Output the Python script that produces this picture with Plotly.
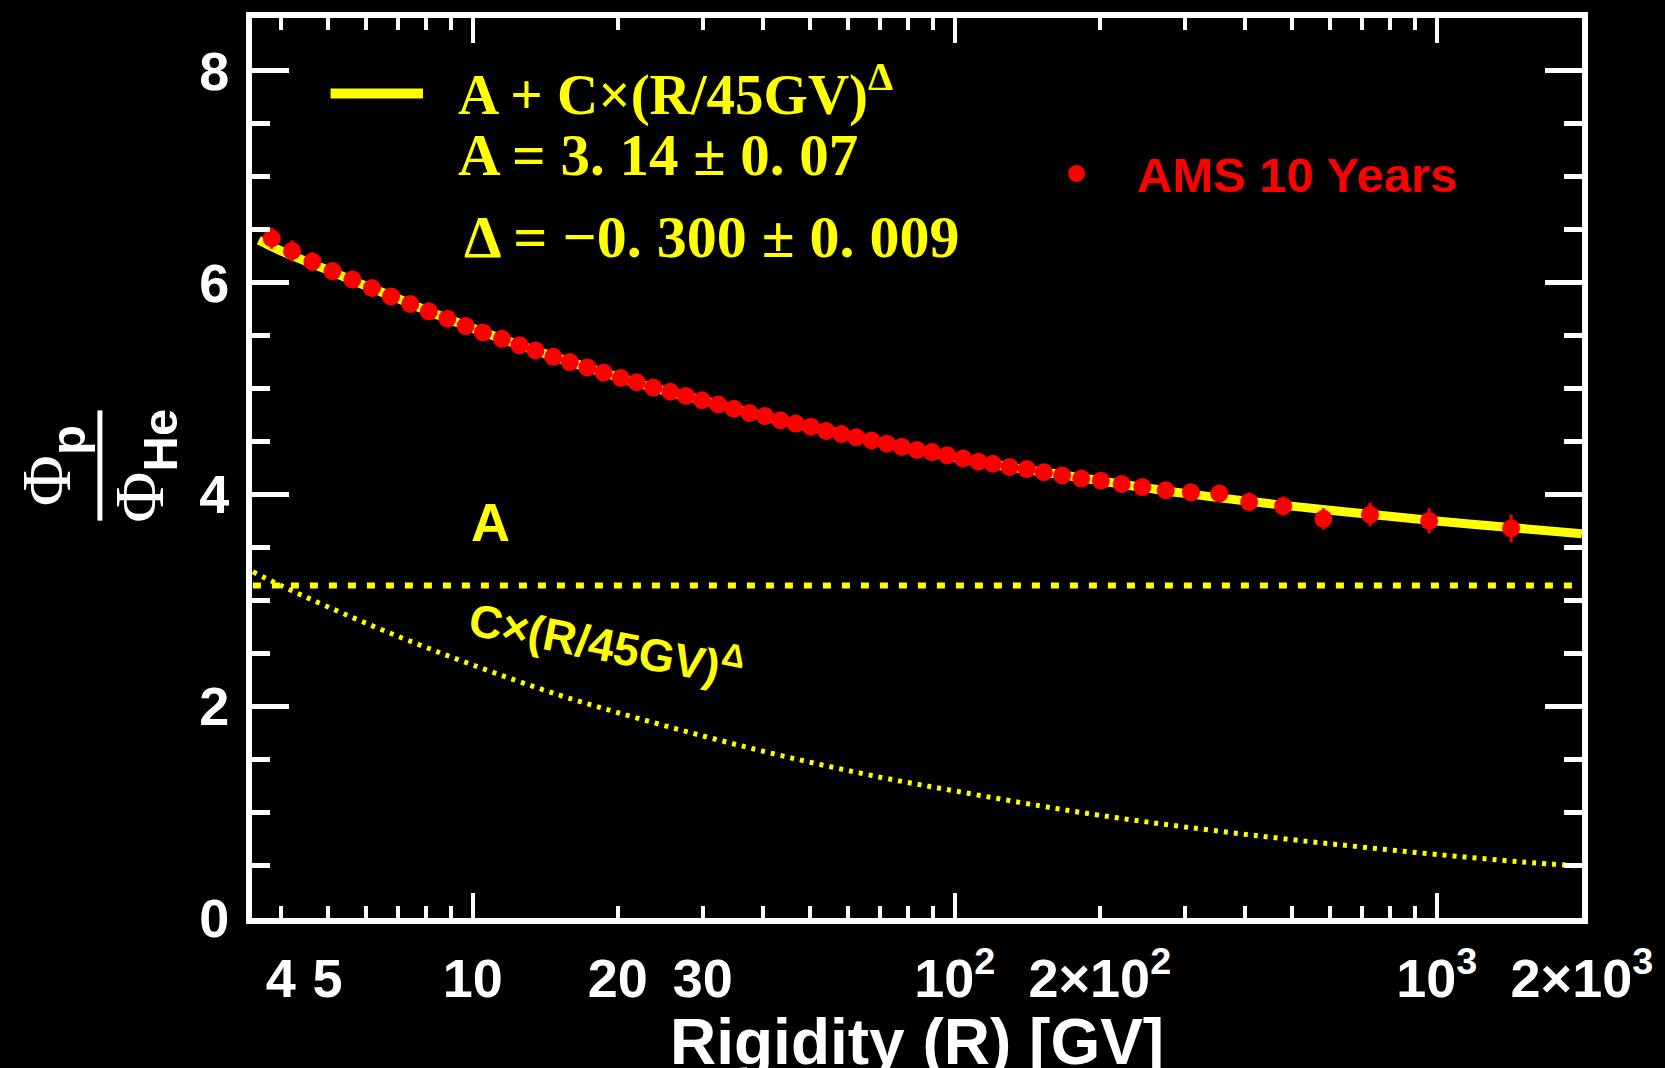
import math
import plotly.graph_objects as go

# ---------------- data ----------------
rigidity = [3.83, 4.22, 4.65, 5.12, 5.63, 6.18, 6.77, 7.42, 8.11, 8.86,
            9.67, 10.5, 11.5, 12.5, 13.5, 14.7, 15.9, 17.3, 18.7, 20.3,
            21.9, 23.7, 25.7, 27.7, 29.9, 32.3, 34.8, 37.5, 40.4, 43.5,
            46.8, 50.3, 54.1, 58.2, 62.5, 67.2, 72.3, 77.7, 83.5, 89.7,
            96.5, 104, 112, 120, 130, 141, 153, 167, 183, 201,
            222, 245, 274, 309, 354, 408, 480, 582, 727, 964, 1426]
ratio = [6.42, 6.30, 6.20, 6.11, 6.03, 5.95, 5.87, 5.80, 5.73, 5.66,
         5.59, 5.53, 5.47, 5.41, 5.36, 5.30, 5.25, 5.20, 5.15, 5.10,
         5.06, 5.01, 4.97, 4.93, 4.89, 4.85, 4.81, 4.77, 4.74, 4.70,
         4.67, 4.64, 4.60, 4.57, 4.54, 4.51, 4.48, 4.45, 4.42, 4.40,
         4.37, 4.34, 4.31, 4.29, 4.26, 4.24, 4.21, 4.18, 4.15, 4.13,
         4.10, 4.07, 4.04, 4.02, 4.01, 3.93, 3.89, 3.77, 3.81, 3.75, 3.68]
ratio_err = [0.10, 0.10, 0.09, 0.08, 0.07, 0.06, 0.06, 0.05, 0.04, 0.04,
             0.04, 0.04, 0.04, 0.04, 0.04, 0.04, 0.04, 0.04, 0.04, 0.04,
             0.03, 0.03, 0.03, 0.03, 0.03, 0.03, 0.03, 0.03, 0.03, 0.03,
             0.03, 0.03, 0.03, 0.03, 0.03, 0.03, 0.03, 0.03, 0.03, 0.03,
             0.03, 0.03, 0.03, 0.03, 0.03, 0.04, 0.04, 0.04, 0.04, 0.04,
             0.05, 0.05, 0.06, 0.07, 0.08, 0.09, 0.09, 0.10, 0.11, 0.12, 0.13]

fit_r = [3.6, 4, 5, 6, 7, 8, 10, 12, 15, 20, 25, 30, 40, 50, 60, 80, 100,
         130, 170, 220, 300, 400, 500, 700, 1000, 1400, 2000]
fit_v = [6.40, 6.30, 6.12, 5.97, 5.85, 5.74, 5.57, 5.44, 5.29, 5.11, 4.98,
         4.89, 4.74, 4.64, 4.56, 4.44, 4.35, 4.26, 4.18, 4.10, 4.01, 3.94,
         3.89, 3.82, 3.75, 3.69, 3.63]

pow_r = [3.5, 4, 5, 7, 10, 15, 20, 30, 45, 70, 100, 150, 200, 300, 500,
         700, 1000, 1500, 2000]
pow_v = [3.27, 3.14, 2.94, 2.66, 2.39, 2.11, 1.94, 1.72, 1.52, 1.33, 1.20,
         1.06, 0.97, 0.86, 0.74, 0.67, 0.60, 0.53, 0.49]

const_r = [3.5, 2000]
const_v = [3.14, 3.14]

x_major_vals = [10, 100, 1000]
x_label_vals = [4, 5, 10, 20, 30, 100, 200, 1000, 2000]
x_label_text = ["4", "5", "10", "20", "30", "10<sup>2</sup>", "2×10<sup>2</sup>",
                "10<sup>3</sup>", "2×10<sup>3</sup>"]
x_minor_vals = [4, 5, 6, 7, 8, 9, 20, 30, 40, 50, 60, 70, 80, 90,
                200, 300, 400, 500, 600, 700, 800, 900]
y_tick_vals = [0, 2, 4, 6, 8]

# ---------------- layout geometry ----------------
W, H = 1665, 1068
L, R, T, B = 252, 75, 12, 150
PW, PH = W - L - R, H - T - B
X_RANGE = [math.log10(3.485), math.log10(2001)]
Y_RANGE = [0, 8.5]


def px(xp):
    return (xp - L) / PW


def py(yp):
    return (H - B - yp) / PH


YEL = "#ffff00"
RED = "#ff0000"
SANS = "Liberation Sans, Arial, sans-serif"
SERIF = "Liberation Serif, Times New Roman, serif"

fig = go.Figure()

fig.add_trace(go.Scatter(x=const_r, y=const_v, mode="lines",
                         line=dict(color=YEL, width=6, dash="8px,11px"),
                         hoverinfo="skip", showlegend=False))
fig.add_trace(go.Scatter(x=pow_r, y=pow_v, mode="lines",
                         line=dict(color=YEL, width=5, dash="4px,6px", shape="spline"),
                         hoverinfo="skip", showlegend=False))
fig.add_trace(go.Scatter(x=fit_r, y=fit_v, mode="lines",
                         line=dict(color=YEL, width=9, shape="spline"),
                         hoverinfo="skip", showlegend=False))
fig.add_trace(go.Scatter(x=rigidity, y=ratio, mode="markers",
                         marker=dict(color=RED, size=18, line=dict(width=0)),
                         error_y=dict(type="data", array=ratio_err, color=RED,
                                      thickness=3, width=0),
                         showlegend=False))
# invisible trace for the label-only axis
fig.add_trace(go.Scatter(x=[10], y=[0], xaxis="x2", mode="markers",
                         marker=dict(opacity=0), hoverinfo="skip", showlegend=False))

tickfont = dict(family=SANS, size=54, color="white", weight="bold")

fig.update_layout(
    width=W, height=H,
    margin=dict(l=L, r=R, t=T, b=B, pad=0),
    paper_bgcolor="black", plot_bgcolor="black",
    showlegend=False,
    xaxis=dict(type="log", range=X_RANGE, showgrid=False, zeroline=False,
               showline=True, linecolor="white", linewidth=6, mirror="ticks",
               ticks="inside", ticklen=25, tickwidth=4, tickcolor="white",
               tickmode="array", tickvals=x_major_vals, showticklabels=False,
               minor=dict(tickmode="array", tickvals=x_minor_vals, ticks="inside",
                          ticklen=12, tickwidth=4, tickcolor="white", showgrid=False)),
    xaxis2=dict(type="log", range=X_RANGE, overlaying="x", anchor="y", side="bottom",
                showgrid=False, zeroline=False, showline=False, ticks="",
                tickmode="array", tickvals=x_label_vals, ticktext=x_label_text,
                tickfont=tickfont, ticklabelstandoff=24),
    yaxis=dict(range=Y_RANGE, showgrid=False, zeroline=False,
               showline=True, linecolor="white", linewidth=6, mirror="ticks",
               ticks="inside", ticklen=37, tickwidth=5, tickcolor="white",
               tickmode="array", tickvals=y_tick_vals,
               tickfont=tickfont, ticklabelstandoff=6,
               minor=dict(dtick=0.5, ticks="inside", ticklen=18, tickwidth=5,
                          tickcolor="white", showgrid=False)),
)

ann = []
# y-axis title built as a fraction
ann.append(dict(text="<span style='font-family:Liberation Serif;font-weight:normal'>Φ</span><sub>p</sub>",
                x=px(50), y=py(463), xref="paper", yref="paper", textangle=-90,
                showarrow=False, xanchor="center", yanchor="middle",
                font=dict(family=SANS, size=70, color="white", weight="bold")))
ann.append(dict(text="<span style='font-family:Liberation Serif;font-weight:normal'>Φ</span><sub>He</sub>",
                x=px(143), y=py(463), xref="paper", yref="paper", textangle=-90,
                showarrow=False, xanchor="center", yanchor="middle",
                font=dict(family=SANS, size=70, color="white", weight="bold")))
# x-axis title
ann.append(dict(text="Rigidity (R) [GV]", x=0.5, y=py(1005), xref="paper", yref="paper",
                showarrow=False, xanchor="center", yanchor="top",
                font=dict(family=SANS, size=64, color="white", weight="bold")))
# fit legend and parameters
ann.append(dict(text="A + C×(R/45GV)<sup>Δ</sup>", x=px(457), y=py(85),
                xref="paper", yref="paper", showarrow=False, xanchor="left", yanchor="middle",
                font=dict(family=SERIF, size=57, color=YEL, weight="bold")))
ann.append(dict(text="A = 3.\u00a014 ± 0.\u00a007", x=px(457), y=py(150),
                xref="paper", yref="paper", showarrow=False, xanchor="left", yanchor="middle",
                font=dict(family=SERIF, size=59, color=YEL, weight="bold")))
ann.append(dict(text="Δ = −0.\u00a0300 ± 0.\u00a0009", x=px(463), y=py(232),
                xref="paper", yref="paper", showarrow=False, xanchor="left", yanchor="middle",
                font=dict(family=SERIF, size=60, color=YEL, weight="bold")))
ann.append(dict(text="AMS 10 Years", x=px(1140), y=py(170),
                xref="paper", yref="paper", showarrow=False, xanchor="left", yanchor="middle",
                font=dict(family=SANS, size=49, color=RED, weight="bold")))
ann.append(dict(text="A", x=px(492), y=py(519),
                xref="paper", yref="paper", showarrow=False, xanchor="center", yanchor="middle",
                font=dict(family=SANS, size=54, color=YEL, weight="bold")))
ann.append(dict(text="C×(R/45GV)<sup>Δ</sup>", x=px(609), y=py(640), textangle=11,
                xref="paper", yref="paper", showarrow=False, xanchor="center", yanchor="middle",
                font=dict(family=SANS, size=46, color=YEL, weight="bold")))
fig.update_layout(annotations=ann)

shapes = [
    dict(type="line", xref="paper", yref="paper", x0=px(99), x1=px(99),
         y0=py(407), y1=py(518), line=dict(color="white", width=5)),
    dict(type="line", xref="paper", yref="paper", x0=px(331), x1=px(424),
         y0=py(88), y1=py(88), line=dict(color=YEL, width=10)),
    dict(type="circle", xref="paper", yref="paper", x0=px(1073), x1=px(1090),
         y0=py(177), y1=py(160), fillcolor=RED, line=dict(width=0)),
]
fig.update_layout(shapes=shapes)

fig.write_html("out.html")
